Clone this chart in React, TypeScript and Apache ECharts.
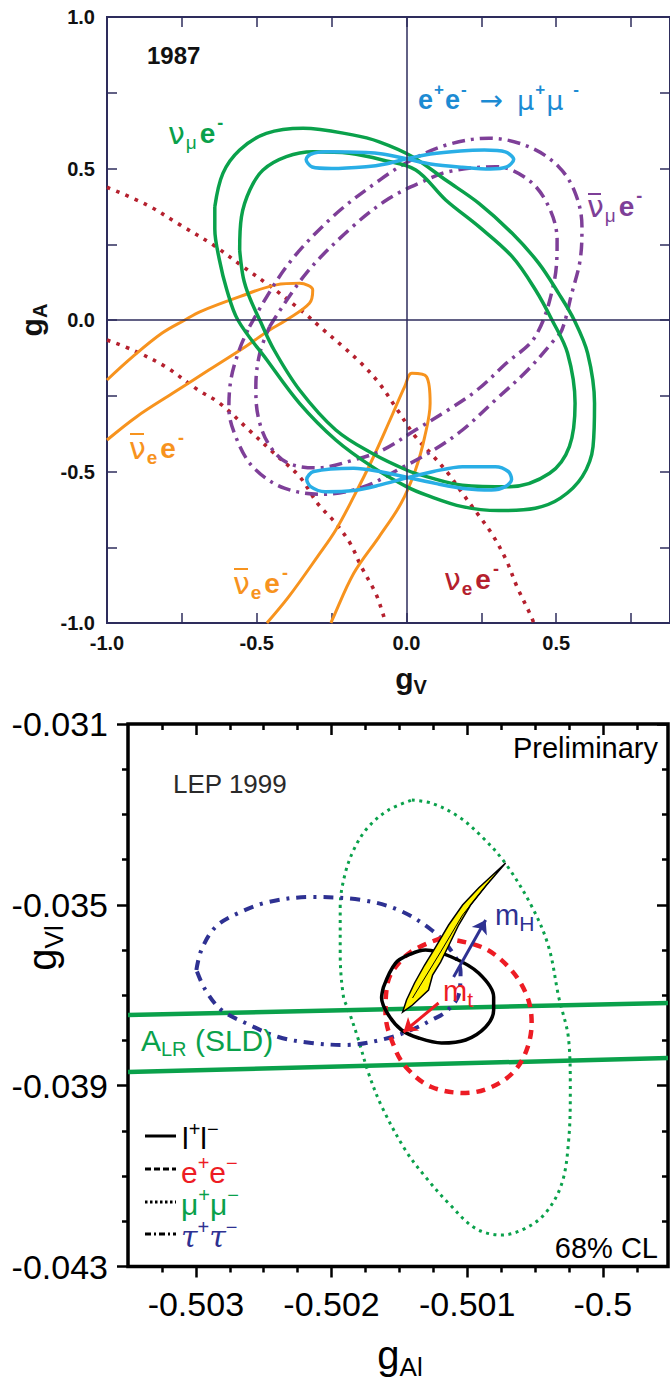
import { useEffect, useRef } from 'react';
import * as echarts from 'echarts';

// ================= Panel 1 : 1987 (gV , gA) =================
const topXLabels = [-1, -0.5, 0, 0.5];
const topYLabels = [-1, -0.5, 0, 0.5, 1];

// e+e- -> mu+mu- (two figure-of-eight contours)
const eeMumuUpper = [
  [0.0, 0.532], [0.08, 0.548], [0.18, 0.558], [0.26, 0.561], [0.33, 0.555], [0.358, 0.53], [0.335, 0.505],
  [0.28, 0.498], [0.186, 0.504], [0.08, 0.515], [0.0, 0.532], [-0.08, 0.548], [-0.135, 0.553], [-0.268, 0.555],
  [-0.32, 0.547], [-0.335, 0.53], [-0.315, 0.505], [-0.25, 0.5], [-0.135, 0.506], [-0.07, 0.515], [0.0, 0.532],
];
const eeMumuLower = [
  [0.005, -0.52], [0.1, -0.54], [0.2, -0.557], [0.284, -0.561], [0.33, -0.55], [0.351, -0.526], [0.34, -0.5],
  [0.297, -0.484], [0.187, -0.484], [0.09, -0.5], [0.005, -0.52], [-0.09, -0.545], [-0.176, -0.563], [-0.272, -0.567],
  [-0.32, -0.55], [-0.333, -0.526], [-0.31, -0.5], [-0.176, -0.489], [-0.09, -0.5], [0.005, -0.52],
];
// nu_mu e- (green, two nested contours)
const numuOuter = [
  [-0.64, 0.374], [-0.613, 0.484], [-0.557, 0.561], [-0.468, 0.616], [-0.345, 0.633], [-0.18, 0.611], [-0.091, 0.588],
  [0.02, 0.539], [0.131, 0.462], [0.242, 0.385], [0.353, 0.286], [0.442, 0.187], [0.508, 0.088], [0.56, 0.0],
  [0.605, -0.11], [0.628, -0.275], [0.623, -0.418], [0.587, -0.517], [0.514, -0.588], [0.43, -0.621], [0.308, -0.629],
  [0.187, -0.616], [0.067, -0.578], [0.0, -0.55], [-0.115, -0.484], [-0.236, -0.396], [-0.357, -0.275], [-0.466, -0.132],
  [-0.563, 0.0], [-0.6, 0.1], [-0.625, 0.2], [-0.64, 0.3], [-0.64, 0.374],
];
const numuInner = [
  [-0.557, 0.231], [-0.551, 0.341], [-0.523, 0.429], [-0.479, 0.495], [-0.401, 0.539], [-0.312, 0.555], [-0.191, 0.55],
  [-0.08, 0.528], [0.031, 0.495], [0.131, 0.396], [0.242, 0.308], [0.353, 0.209], [0.431, 0.099], [0.486, 0.0],
  [0.538, -0.11], [0.563, -0.275], [0.544, -0.418], [0.478, -0.506], [0.345, -0.55], [0.187, -0.545], [0.067, -0.517],
  [0.0, -0.495], [-0.115, -0.44], [-0.236, -0.363], [-0.357, -0.231], [-0.442, -0.099], [-0.49, 0.0], [-0.525, 0.077],
  [-0.545, 0.14], [-0.557, 0.231],
];
// anti-nu_mu e- (purple dash-dot, two nested contours)
const numubarOuter = [
  [-0.524, -0.022], [-0.401, 0.176], [-0.246, 0.341], [-0.085, 0.465], [0.02, 0.53], [0.142, 0.58], [0.275, 0.6],
  [0.408, 0.572], [0.508, 0.506], [0.564, 0.418], [0.586, 0.308], [0.58, 0.198], [0.552, 0.088], [0.519, -0.033],
  [0.49, -0.07], [0.405, -0.165], [0.297, -0.264], [0.187, -0.363], [0.091, -0.429], [-0.02, -0.49], [-0.142, -0.55],
  [-0.275, -0.575], [-0.408, -0.555], [-0.508, -0.49], [-0.564, -0.4], [-0.593, -0.29], [-0.585, -0.19], [-0.555, -0.09],
  [-0.524, -0.022],
];
const numubarInner = [
  [-0.457, -0.022], [-0.335, 0.154], [-0.18, 0.308], [-0.06, 0.4], [0.05, 0.455], [0.142, 0.49], [0.298, 0.506],
  [0.408, 0.462], [0.475, 0.374], [0.503, 0.264], [0.492, 0.121], [0.43, -0.055], [0.333, -0.143], [0.236, -0.231],
  [0.139, -0.297], [0.03, -0.363], [-0.079, -0.429], [-0.176, -0.462], [-0.3, -0.488], [-0.4, -0.47], [-0.46, -0.41],
  [-0.495, -0.32], [-0.503, -0.22], [-0.49, -0.11], [-0.457, -0.022],
];
// nu_e e- (dark red dotted, two branches)
const nueA = [
  [-1.0, 0.438], [-0.867, 0.38], [-0.756, 0.314], [-0.646, 0.248], [-0.546, 0.176], [-0.446, 0.105], [-0.346, 0.027],
  [-0.28, -0.03], [-0.212, -0.088], [-0.151, -0.143], [-0.091, -0.209], [-0.03, -0.297], [0.03, -0.385], [0.091, -0.451],
  [0.139, -0.506], [0.187, -0.572], [0.236, -0.638], [0.284, -0.704], [0.333, -0.792], [0.369, -0.88], [0.417, -0.979],
  [0.425, -1.0],
];
const nueB = [
  [-1.0, -0.066], [-0.914, -0.099], [-0.805, -0.154], [-0.696, -0.231], [-0.623, -0.275], [-0.526, -0.363], [-0.442, -0.44],
  [-0.357, -0.517], [-0.297, -0.605], [-0.236, -0.671], [-0.188, -0.737], [-0.151, -0.814], [-0.103, -0.902],
  [-0.079, -0.968], [-0.07, -1.0],
];
// anti-nu_e e- (orange, two contours)
const nuebarA = [
  [-1.0, -0.198], [-0.914, -0.121], [-0.817, -0.044], [-0.74, 0.0], [-0.69, 0.027], [-0.557, 0.077], [-0.435, 0.116],
  [-0.357, 0.121], [-0.313, 0.099], [-0.324, 0.055], [-0.401, 0.0], [-0.457, -0.033], [-0.538, -0.088], [-0.66, -0.165],
  [-0.781, -0.242], [-0.901, -0.319], [-1.0, -0.396],
];
const nuebarB = [
  [-0.466, -1.0], [-0.393, -0.913], [-0.297, -0.781], [-0.236, -0.693], [-0.176, -0.583], [-0.115, -0.462],
  [-0.055, -0.33], [-0.006, -0.22], [0.018, -0.176], [0.067, -0.187], [0.079, -0.275], [0.061, -0.385], [0.03, -0.495],
  [-0.018, -0.605], [-0.091, -0.715], [-0.176, -0.836], [-0.248, -0.99], [-0.252, -1.0],
];

// ================= Panel 2 : LEP 1999 (gAl , gVl) =================
const botXLabels = [-0.503, -0.502, -0.501, -0.5];
const botXMinor = [-0.50325, -0.50275, -0.5025, -0.50225, -0.50175, -0.5015, -0.50125, -0.50075, -0.5005, -0.50025, -0.49975];

const llContour = [
  [-0.501617, -0.036818], [-0.501528, -0.036287], [-0.501417, -0.036088], [-0.501307, -0.035999], [-0.501115, -0.036154],
  [-0.500916, -0.036508], [-0.500805, -0.037039], [-0.500805, -0.037326], [-0.500864, -0.037702], [-0.501012, -0.03799],
  [-0.501189, -0.038056], [-0.501358, -0.037946], [-0.501484, -0.037769], [-0.50158, -0.037437], [-0.501631, -0.037061],
  [-0.501617, -0.036818],
];
const eeContour = [
  [-0.501189, -0.035734], [-0.500894, -0.035933], [-0.500695, -0.036375], [-0.500562, -0.036994], [-0.500525, -0.037614],
  [-0.500562, -0.038211], [-0.500658, -0.038698], [-0.50082, -0.03903], [-0.501012, -0.039162], [-0.501263, -0.03903],
  [-0.501432, -0.038654], [-0.501528, -0.038211], [-0.501602, -0.037393], [-0.501595, -0.036884], [-0.501558, -0.036508],
  [-0.501417, -0.036043], [-0.501189, -0.035734],
];
const mumuContour = [
  [-0.501408, -0.032681], [-0.50126, -0.032754], [-0.501063, -0.033051], [-0.500892, -0.033493], [-0.500719, -0.034081],
  [-0.500523, -0.035041], [-0.5004, -0.035926], [-0.500326, -0.037032], [-0.500252, -0.03799], [-0.50024, -0.039096],
  [-0.500252, -0.040202], [-0.500302, -0.04116], [-0.500424, -0.041823], [-0.500572, -0.042155], [-0.500744, -0.042303],
  [-0.50094, -0.042155], [-0.501137, -0.041602], [-0.501309, -0.041014], [-0.501456, -0.040423], [-0.501629, -0.039465],
  [-0.501727, -0.038727], [-0.501801, -0.03799], [-0.501875, -0.037326], [-0.501912, -0.037032], [-0.501936, -0.036072],
  [-0.501936, -0.035041], [-0.501899, -0.034302], [-0.501825, -0.033714], [-0.501727, -0.033272], [-0.50158, -0.032902],
  [-0.501408, -0.032681],
];
const tautauContour = [
  [-0.502996, -0.036441], [-0.502959, -0.035999], [-0.502855, -0.03549], [-0.502686, -0.035181], [-0.502465, -0.034937],
  [-0.502148, -0.034827], [-0.501779, -0.034893], [-0.501506, -0.035114], [-0.501263, -0.035557], [-0.501122, -0.035999],
  [-0.501049, -0.036486], [-0.501063, -0.036994], [-0.501159, -0.037371], [-0.501263, -0.037548], [-0.50138, -0.037725],
  [-0.50158, -0.037946], [-0.501897, -0.0381], [-0.502148, -0.038056], [-0.502391, -0.037924], [-0.502634, -0.037614],
  [-0.502811, -0.037326], [-0.502929, -0.036884], [-0.502996, -0.036441],
];
const alrUpper = [[-0.5035, -0.037437], [-0.49952, -0.037172]];
const alrLower = [[-0.5035, -0.038698], [-0.49952, -0.038388]];
const smBand = [
  [-0.500717, -0.034075], [-0.500916, -0.034628], [-0.501034, -0.035004], [-0.501137, -0.035446], [-0.501233, -0.035933],
  [-0.501314, -0.036331], [-0.501388, -0.036729], [-0.501447, -0.037105], [-0.501476, -0.037371], [-0.501403, -0.037216],
  [-0.501285, -0.036884], [-0.501255, -0.036552], [-0.501196, -0.036265], [-0.501145, -0.035955], [-0.501063, -0.035446],
  [-0.500975, -0.035004], [-0.500857, -0.034561],
];
const smBandInner = [[-0.501403, -0.037061], [-0.501196, -0.036043], [-0.501034, -0.035225], [-0.500827, -0.034451]];
const mHArrow = [[-0.5011, -0.036596], [-0.500864, -0.035336]];
const mtArrow = [[-0.501211, -0.037172], [-0.501469, -0.037813]];

// ================= styling =================
const F = "'Liberation Sans', Arial, Helvetica, sans-serif";
const NAVY = '#2e2d5c';
const GREEN = '#0aa14b';
const CYAN = '#29aee6';
const CYANTXT = '#1c8bd3';
const PURPLE = '#7e3f98';
const DRED = '#b5202e';
const ORANGE = '#f7931e';
const RED = '#ed1c24';
const BLUE = '#2e3192';

function lineSeries(data: number[][], color: string, width: number, type: any, xi: number, yi: number, smooth: number | boolean = 0.35, z = 2) {
  return {
    type: 'line', data, xAxisIndex: xi, yAxisIndex: yi, showSymbol: false, symbol: 'none', smooth, silent: true, z,
    lineStyle: { color, width, type, cap: 'butt', join: 'round' }, clip: true,
  };
}

const tok = (fontSize: number, fill: string, extra: any = {}) => ({ fontSize, fill, fontFamily: F, lineHeight: 38, ...extra });

function txt(x: number, y: number, text: string, rich: any, align = 'left', rotation = 0) {
  return {
    type: 'text', x, y, rotation, silent: true, z: 100,
    style: { text, rich, align, textAlign: align, verticalAlign: 'middle', textVerticalAlign: 'middle', fontFamily: F },
  };
}
function bar(x1: number, x2: number, y: number, color: string) {
  return { type: 'line', silent: true, z: 100, shape: { x1, y1: y, x2, y2: y }, style: { stroke: color, lineWidth: 2 } };
}
function legendLine(y: number, dash: any) {
  return { type: 'line', silent: true, z: 100, shape: { x1: 145, y1: y, x2: 176, y2: y }, style: { stroke: '#000', lineWidth: 3, lineDash: dash } };
}

function nuLabel(color: string, subText: string, subBold: boolean) {
  return {
    text: `{n|ν}{s|${subText}}{e|e}{p|-}`,
    rich: {
      n: tok(30, color, { fontFamily: "'DejaVu Sans', sans-serif" }),
      s: tok(19, color, { verticalAlign: 'bottom', fontWeight: subBold ? 'bold' : 'normal', padding: [0, 3, 0, 1] }),
      e: tok(28, color, { fontWeight: 'bold' }),
      p: tok(18, color, { verticalAlign: 'top', fontWeight: 'bold', padding: [0, 0, 0, 2] }),
    },
  };
}
const greenLbl = nuLabel(GREEN, 'μ', false);
const purpleLbl = nuLabel(PURPLE, 'μ', false);
const orangeLbl = nuLabel(ORANGE, 'e', true);
const redLbl = nuLabel(DRED, 'e', true);

const topTick = { show: true, inside: true, length: 10, lineStyle: { color: NAVY, width: 1.5 } };
const noLine = { show: false, onZero: false };
const botTickStyle = { color: '#000', width: 2.5 };

const option: any = {
  animation: false,
  textStyle: { fontFamily: F },
  grid: [
    { left: 107, top: 17, width: 565, height: 606, show: true, borderColor: NAVY, borderWidth: 2, backgroundColor: 'transparent' },
    { left: 128, top: 724, width: 540, height: 542.5, show: true, borderColor: '#000', borderWidth: 3.5, backgroundColor: 'transparent' },
  ],
  xAxis: [
    {
      gridIndex: 0, type: 'value', position: 'bottom', min: -1, max: 0.88, interval: 0.25, axisLine: noLine,
      axisTick: topTick, splitLine: { show: false },
      axisLabel: { customValues: topXLabels, formatter: (v: number) => v.toFixed(1), fontSize: 20, fontWeight: 'bold', color: '#111', margin: 10 },
    },
    {
      gridIndex: 0, type: 'value', position: 'top', min: -1, max: 0.88, interval: 0.25, axisLine: noLine,
      axisTick: topTick, splitLine: { show: false }, axisLabel: { show: false },
    },
    {
      gridIndex: 1, type: 'value', position: 'bottom', min: -0.5035, max: -0.49952, axisLine: noLine, splitLine: { show: false },
      axisTick: { customValues: botXLabels, length: 11, inside: false, lineStyle: botTickStyle },
      axisLabel: { customValues: botXLabels, formatter: (v: number) => String(v), fontSize: 34, color: '#000', margin: 20 },
    },
    {
      gridIndex: 1, type: 'value', position: 'bottom', min: -0.5035, max: -0.49952, axisLine: noLine, splitLine: { show: false },
      axisTick: { customValues: botXMinor, length: 6, inside: false, lineStyle: botTickStyle }, axisLabel: { show: false },
    },
    {
      gridIndex: 1, type: 'value', position: 'top', min: -0.5035, max: -0.49952, axisLine: noLine, splitLine: { show: false },
      axisTick: { customValues: botXLabels, length: 11, inside: true, lineStyle: botTickStyle }, axisLabel: { show: false },
    },
    {
      gridIndex: 1, type: 'value', position: 'top', min: -0.5035, max: -0.49952, axisLine: noLine, splitLine: { show: false },
      axisTick: { customValues: botXMinor, length: 6, inside: true, lineStyle: botTickStyle }, axisLabel: { show: false },
    },
  ],
  yAxis: [
    {
      gridIndex: 0, type: 'value', position: 'left', min: -1, max: 1, interval: 0.25, axisLine: noLine,
      axisTick: topTick, splitLine: { show: false },
      axisLabel: { customValues: topYLabels, formatter: (v: number) => v.toFixed(1), fontSize: 20, fontWeight: 'bold', color: '#111', margin: 12 },
    },
    {
      gridIndex: 0, type: 'value', position: 'right', min: -1, max: 1, interval: 0.25, axisLine: noLine,
      axisTick: topTick, splitLine: { show: false }, axisLabel: { show: false },
    },
    {
      gridIndex: 1, type: 'value', position: 'left', min: -0.043, max: -0.031, interval: 0.004, axisLine: noLine,
      splitLine: { show: false }, minorSplitLine: { show: false },
      axisTick: { length: 11, inside: false, lineStyle: botTickStyle },
      minorTick: { show: true, splitNumber: 4, length: 6, lineStyle: botTickStyle },
      axisLabel: { formatter: (v: number) => v.toFixed(3), fontSize: 34, color: '#000', margin: 20 },
    },
    {
      gridIndex: 1, type: 'value', position: 'right', min: -0.043, max: -0.031, interval: 0.004, axisLine: noLine,
      splitLine: { show: false }, minorSplitLine: { show: false },
      axisTick: { length: 11, inside: true, lineStyle: botTickStyle },
      minorTick: { show: true, splitNumber: 4, length: 6, lineStyle: botTickStyle },
      axisLabel: { show: false },
    },
  ],
  series: [
    {
      type: 'line', xAxisIndex: 0, yAxisIndex: 0, data: [[0, 0]], showSymbol: false, symbol: 'none', silent: true, z: 1,
      markLine: {
        silent: true, symbol: ['none', 'none'], label: { show: false }, animation: false,
        lineStyle: { color: NAVY, width: 1.5, type: 'solid' }, data: [{ xAxis: 0 }, { yAxis: 0 }],
      },
    },
    lineSeries(nueA, DRED, 3.6, [3.6, 6.4], 0, 0),
    lineSeries(nueB, DRED, 3.6, [3.6, 6.4], 0, 0),
    lineSeries(nuebarA, ORANGE, 3, 'solid', 0, 0),
    lineSeries(nuebarB, ORANGE, 3, 'solid', 0, 0),
    lineSeries(numubarOuter, PURPLE, 3.5, [13, 6, 3, 6], 0, 0),
    lineSeries(numubarInner, PURPLE, 3.5, [13, 6, 3, 6], 0, 0),
    lineSeries(numuOuter, GREEN, 3.5, 'solid', 0, 0),
    lineSeries(numuInner, GREEN, 3.5, 'solid', 0, 0),
    lineSeries(eeMumuUpper, CYAN, 3.5, 'solid', 0, 0, 0.3),
    lineSeries(eeMumuLower, CYAN, 3.5, 'solid', 0, 0, 0.3),

    lineSeries(alrUpper, GREEN, 4.5, 'solid', 2, 2, false),
    lineSeries(alrLower, GREEN, 4.5, 'solid', 2, 2, false),
    lineSeries(mumuContour, GREEN, 3, [3, 4.5], 2, 2),
    lineSeries(tautauContour, BLUE, 4, [10, 7, 3, 7], 2, 2),
    lineSeries(eeContour, RED, 4.5, [9, 7], 2, 2),
    lineSeries(llContour, '#000', 3.5, 'solid', 2, 2),
    {
      type: 'custom', xAxisIndex: 2, yAxisIndex: 2, data: [smBand[0]], silent: true, z: 3,
      renderItem: (_p: any, api: any) => ({
        type: 'group',
        children: [
          { type: 'polygon', shape: { points: smBand.map((p) => api.coord(p)) }, style: { fill: '#fff200', stroke: '#000', lineWidth: 1.5 } },
          { type: 'polyline', shape: { points: smBandInner.map((p) => api.coord(p)) }, style: { fill: null, stroke: '#000', lineWidth: 1 } },
        ],
      }),
    },
    {
      type: 'line', xAxisIndex: 2, yAxisIndex: 2, data: [mHArrow[0]], showSymbol: false, symbol: 'none', silent: true, z: 4,
      markLine: {
        silent: true, symbol: ['none', 'arrow'], symbolSize: 13, label: { show: false }, animation: false,
        data: [
          [{ coord: mHArrow[0], lineStyle: { color: BLUE, width: 3, type: 'solid' }, itemStyle: { color: BLUE } }, { coord: mHArrow[1] }],
          [{ coord: mtArrow[0], lineStyle: { color: RED, width: 3, type: 'solid' }, itemStyle: { color: RED } }, { coord: mtArrow[1] }],
        ],
      },
    },
  ],
  graphic: [
    // ---- panel 1 texts
    txt(147, 55, '{a|1987}', { a: tok(24, '#111', { fontWeight: 'bold' }) }),
    txt(418, 100, '{e|e}{p|+}{e|e}{p|-}{a|→}{m|μ}{p|+}{m|μ}{q|-}', {
      e: tok(27, CYANTXT, { fontWeight: 'bold' }),
      p: tok(17, CYANTXT, { fontWeight: 'bold', verticalAlign: 'top', padding: [0, 1, 0, 1] }),
      q: tok(17, CYANTXT, { fontWeight: 'bold', verticalAlign: 'top', padding: [0, 0, 0, 10] }),
      a: tok(28, CYANTXT, { fontFamily: "'DejaVu Sans', sans-serif", padding: [0, 14, 0, 12] }),
      m: tok(27, CYANTXT, { fontFamily: "'DejaVu Sans', sans-serif" }),
    }),
    txt(168, 133, greenLbl.text, greenLbl.rich),
    txt(587, 206, purpleLbl.text, purpleLbl.rich),
    bar(588, 601, 194, PURPLE),
    txt(129, 448, orangeLbl.text, orangeLbl.rich),
    bar(130, 144, 434, ORANGE),
    txt(233, 583, orangeLbl.text, orangeLbl.rich),
    bar(234, 248, 569, ORANGE),
    txt(444, 579, redLbl.text, redLbl.rich),
    txt(411, 678, '{g|g}{s|V}', {
      g: tok(30, '#111', { fontWeight: 'bold' }), s: tok(20, '#111', { fontWeight: 'bold', verticalAlign: 'bottom' }),
    }, 'center'),
    txt(31, 320, '{g|g}{s|A}', {
      g: tok(30, '#111', { fontWeight: 'bold' }), s: tok(20, '#111', { fontWeight: 'bold', verticalAlign: 'bottom' }),
    }, 'center', Math.PI / 2),

    // ---- panel 2 texts
    txt(658, 748, '{a|Preliminary}', { a: tok(29, '#000') }, 'right'),
    txt(173, 784, '{a|LEP 1999}', { a: tok(26, '#2a2a2a') }),
    txt(658, 1248, '{a|68% CL}', { a: tok(29, '#000') }, 'right'),
    txt(141, 1040, '{a|A}{s|LR}{a| (SLD)}', { a: tok(30, GREEN), s: tok(20, GREEN, { verticalAlign: 'bottom' }) }),
    txt(495, 915, '{a|m}{s|H}', { a: tok(29, BLUE), s: tok(21, BLUE, { verticalAlign: 'bottom' }) }),
    txt(443, 991, '{a|m}{s|t}', { a: tok(29, RED), s: tok(21, RED, { verticalAlign: 'bottom' }) }),
    txt(42, 948, '{g|g}{s|Vl}', { g: tok(40, '#000', { lineHeight: 50 }), s: tok(26, '#000', { verticalAlign: 'bottom', lineHeight: 50 }) }, 'center', Math.PI / 2),
    txt(400, 1355, '{g|g}{s|Al}', { g: tok(40, '#000', { lineHeight: 50 }), s: tok(26, '#000', { verticalAlign: 'bottom', lineHeight: 50 }) }, 'center'),

    legendLine(1136, null),
    legendLine(1169, [6, 3]),
    legendLine(1202, [2.5, 2.5]),
    legendLine(1234, [6, 3, 2, 3]),
    txt(182, 1138, '{a|l}{p|+}{a|l}{p|−}', { a: tok(30, '#000'), p: tok(20, '#000', { verticalAlign: 'top' }) }),
    txt(181, 1172, '{a|e}{p|+}{a|e}{p|−}', { a: tok(30, RED), p: tok(20, RED, { verticalAlign: 'top' }) }),
    txt(181, 1204, '{a|μ}{p|+}{a|μ}{p|−}', { a: tok(30, GREEN), p: tok(20, GREEN, { verticalAlign: 'top' }) }),
    txt(181, 1236, '{a|τ}{p|+}{a|τ}{p|−}', { a: tok(30, BLUE, { fontFamily: "'DejaVu Serif', serif", fontStyle: 'italic' }), p: tok(20, BLUE, { verticalAlign: 'top' }) }),
  ],
};

export default function App() {
  const ref = useRef<HTMLDivElement>(null);
  useEffect(() => {
    document.body.style.margin = '0';
    const chart = echarts.init(ref.current as HTMLDivElement, null, { renderer: 'svg', width: 670, height: 1386 });
    chart.setOption(option);
    return () => chart.dispose();
  }, []);
  return <div ref={ref} style={{ width: 670, height: 1386 }} />;
}
